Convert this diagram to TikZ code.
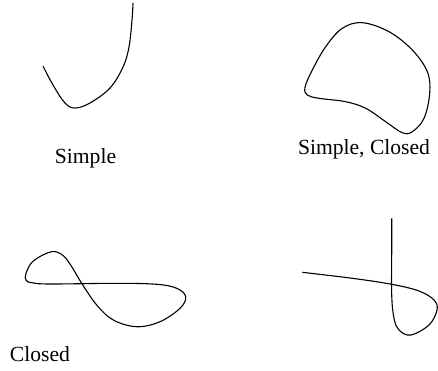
\documentclass[tikz,border=0pt]{standalone}
\usepackage{fontspec}
\setmainfont{Liberation Serif}
\usepackage{tikz}
\usetikzlibrary{positioning}

\begin{document}
\begin{tikzpicture}[
			x=0.5pt, y=-0.5pt,
			lbl/.style={
				anchor=base,
				inner sep=0pt,
				font=\fontsize{10.8}{13}\selectfont
			},
			curve/.style={line width=0.55pt, line join=round}
			]
			
			\useasboundingbox (0,0) rectangle (438,370);
			
			% simple
			\draw[curve] plot[smooth, tension=0.6] coordinates {
				(43,66) (53,85) (65,103) (75,108) (90,103) (110,88)
				(123,67) (129,47) (132,20) (133,3)};
			\node[lbl] (simple) at (85.5,163.5) {Simple};
			
			% simple, closed
			\draw[curve] plot[smooth cycle, tension=0.6] coordinates {
				(362.3,22.7) (389,31.7) (412.3,50) (427.3,71.7) (429.7,93.3)
				(424,118.3) (412.3,131.7) (402.3,132.7) (385.7,121.7) (365.7,108.3)
				(345.7,101.7) (319,98.3) (307.3,95) (305,87.3) (312.3,70)
				(325.7,46.7) (342.3,28.3)};
			\node[lbl] (simpleclosed) at (364,154) {Simple, Closed};
			
			% closed
			\draw[curve] plot[smooth cycle, tension=0.6] coordinates {
				(26,280) (26,273.3) (33.3,261) (51.7,251.7) (63.3,255.7)
				(71.7,266.7) (81.7,283.3) (96.7,305) (113.3,320) (136.7,326.7)
				(160,321.7) (180,308.3) (185.7,296.7) (176.7,288.3) (156.7,284.3)
				(116.7,283.3) (50,284) (31.7,282.7)};
			\node[lbl] (closed) at (40,361) {Closed};
			
			% neither
			\draw[curve] plot[smooth, tension=0.6] coordinates {
				(302.3,272.3) (352.3,278.3) (391.7,284.3) (419,291) (434,300)
				(437,310) (429,325) (410.7,335) (399,330) (394,318.3)
				(391.7,295) (391.7,251.7) (391.7,218.3)};
			
		\end{tikzpicture}
\end{document}
